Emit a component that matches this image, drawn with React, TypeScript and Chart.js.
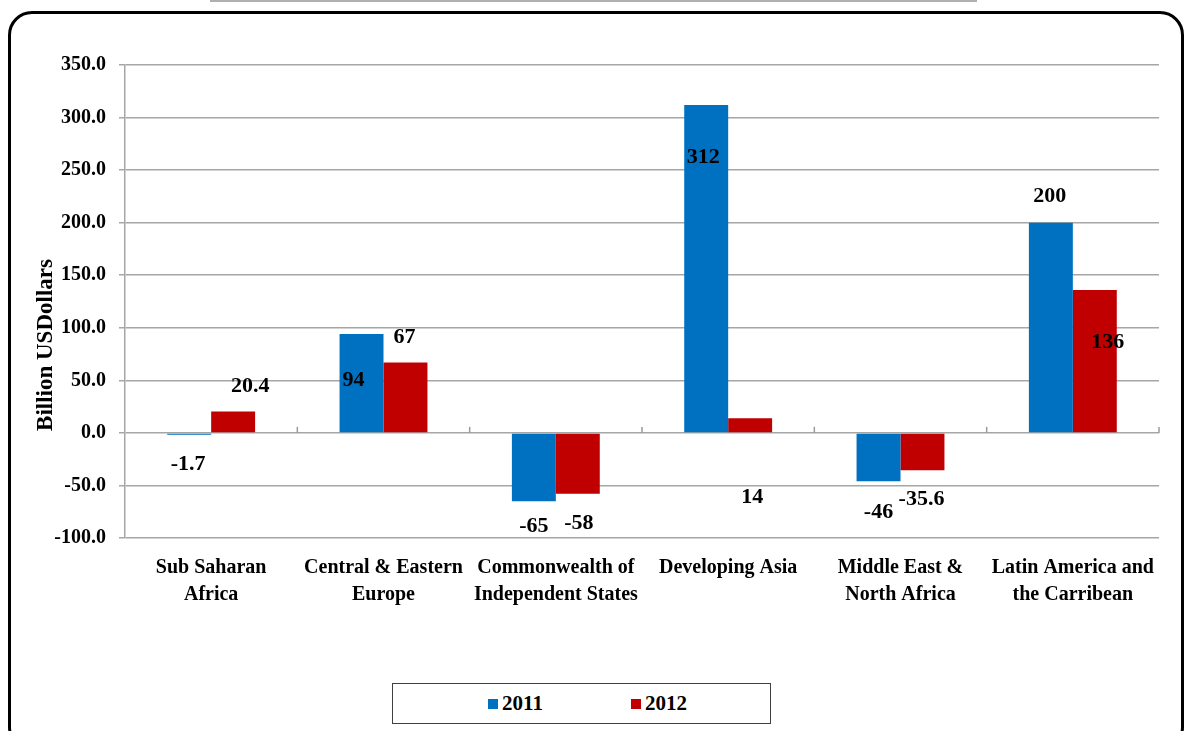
import React, { useEffect, useRef } from "react";
import { Chart, registerables } from "chart.js";

Chart.register(...registerables);

const categories: string[][] = [
  ["Sub Saharan", "Africa"],
  ["Central & Eastern", "Europe"],
  ["Commonwealth of", "Independent States"],
  ["Developing Asia"],
  ["Middle East &", "North Africa"],
  ["Latin America and", "the Carribean"],
];
const seriesNames = ["2011", "2012"];
const values2011 = [-1.7, 94, -65, 312, -46, 200];
const values2012 = [20.4, 67, -58, 14, -35.6, 136];
const seriesColors = ["#0070C0", "#C00000"];
const yMin = -100;
const yMax = 350;
const yStep = 50;
const yTitle = "Billion USDollars";

// label placement (pixel offsets from the bar end), as in the original manual layout
const labelOffsets2011: [number, number][] = [[-1, 30], [-8, 46], [0, 25], [-3, 52], [0, 31], [-1, -26]];
const labelOffsets2012: [number, number][] = [[17, -25], [-1, -25], [1, 29], [2, 79], [-1, 29], [13, 52]];

const FONT = "'Liberation Serif', 'Times New Roman', serif";

const labelPlugin = {
  id: "customLabels",
  afterDatasetsDraw(chart: any) {
    const ctx = chart.ctx;
    ctx.save();
    ctx.font = `bold 22px ${FONT}`;
    ctx.fillStyle = "#000";
    ctx.textAlign = "center";
    ctx.textBaseline = "middle";
    const offs = [labelOffsets2011, labelOffsets2012];
    chart.data.datasets.forEach((ds: any, di: number) => {
      const meta = chart.getDatasetMeta(di);
      meta.data.forEach((el: any, i: number) => {
        const [dx, dy] = offs[di][i];
        ctx.fillText(String(ds.data[i]), el.x + dx, el.y + dy);
      });
    });
    // zero-line tick marks at category boundaries
    const xs = chart.scales.x;
    const ys = chart.scales.y;
    const y0 = ys.getPixelForValue(0);
    ctx.strokeStyle = "#9a9a9a";
    ctx.lineWidth = 1.5;
    for (let i = 1; i <= categories.length; i++) {
      const x = xs.left + (xs.width * i) / categories.length;
      ctx.beginPath();
      ctx.moveTo(x, y0);
      ctx.lineTo(x, y0 - 6);
      ctx.stroke();
    }
    // y axis title
    ctx.translate(46, 345);
    ctx.rotate(-Math.PI / 2);
    ctx.font = `bold 23px ${FONT}`;
    ctx.fillText(yTitle, 0, 0);
    ctx.restore();
  },
};

export default function App() {
  const ref = useRef<HTMLCanvasElement | null>(null);
  useEffect(() => {
    if (!ref.current) return;
    const chart = new Chart(ref.current, {
      type: "bar",
      data: {
        labels: categories,
        datasets: [
          { label: seriesNames[0], data: values2011, backgroundColor: seriesColors[0] },
          { label: seriesNames[1], data: values2012, backgroundColor: seriesColors[1] },
        ],
      },
      options: {
        animation: false,
        responsive: false,
        maintainAspectRatio: false,
        layout: { padding: { left: 0, right: 27, top: 65, bottom: 73 } },
        datasets: { bar: { categoryPercentage: 0.51, barPercentage: 1 } },
        plugins: { legend: { display: false }, tooltip: { enabled: false } },
        scales: {
          x: {
            grid: { display: false, drawTicks: false },
            border: { display: false },
            ticks: {
              color: "#000",
              font: { family: FONT, size: 20, weight: "bold", lineHeight: 1.35 },
              padding: 16,
              maxRotation: 0,
              autoSkip: false,
            },
            afterFit(scale: any) {
              scale.height = 120;
            },
          },
          y: {
            min: yMin,
            max: yMax,
            grid: {
              color: "#a6a6a6",
              lineWidth: 1.5,
              tickLength: 6,
            },
            border: { display: true, color: "#a6a6a6", width: 1.5 },
            ticks: {
              stepSize: yStep,
              color: "#000",
              padding: 13,
              font: { family: FONT, size: 20, weight: "bold" },
              callback: (v: any) => Number(v).toFixed(1),
            },
            afterFit(scale: any) {
              scale.width = 125;
            },
          },
        },
      },
      plugins: [labelPlugin],
    });
    return () => chart.destroy();
  }, []);

  return (
    <div style={{ position: "absolute", left: 0, top: 0, width: 1186, height: 731, overflow: "hidden", background: "#fff" }}>
      <div style={{ position: "absolute", left: 210, top: 0, width: 767, height: 2, background: "#b0b0b0" }} />
      <div
        style={{
          position: "absolute",
          left: 8,
          top: 11,
          width: 1176,
          height: 740,
          border: "3px solid #000",
          borderRadius: 24,
          boxSizing: "border-box",
        }}
      />
      <canvas ref={ref} width={1186} height={731} style={{ position: "absolute", left: 0, top: 0 }} />
      <div
        style={{
          position: "absolute",
          left: 392,
          top: 683,
          width: 379,
          height: 41,
          border: "1.5px solid #404040",
          boxSizing: "border-box",
          display: "flex",
          alignItems: "center",
          justifyContent: "center",
          paddingLeft: 12,
          gap: 88,
          fontFamily: FONT,
          fontWeight: "bold",
          fontSize: 21,
          background: "#fff",
        }}
      >
        {seriesNames.map((n, i) => (
          <div key={n} style={{ display: "flex", alignItems: "center", gap: 4 }}>
            <span style={{ display: "inline-block", width: 10, height: 10, background: seriesColors[i] }} />
            <span>{n}</span>
          </div>
        ))}
      </div>
    </div>
  );
}
